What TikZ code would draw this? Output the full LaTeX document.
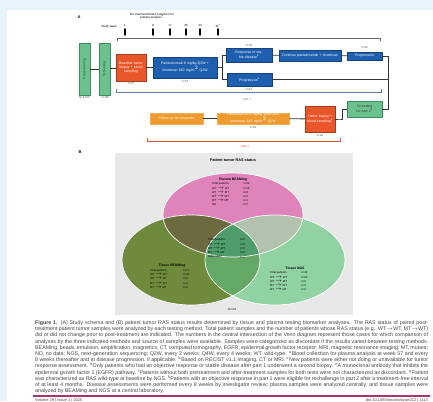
\documentclass[tikz,border=0pt]{standalone}
\usepackage{fontspec}
\setmainfont{Liberation Sans}
\usetikzlibrary{positioning}

\definecolor{pagebg}{HTML}{E6F3FB}
\definecolor{txbox}{HTML}{1F5FAF}
\definecolor{biopsy}{HTML}{E8562A}
\definecolor{partorange}{HTML}{EE9A2E}
\definecolor{screengreen}{HTML}{6CC28E}
\definecolor{screenedge}{HTML}{3C8F5C}
\definecolor{panelgray}{HTML}{E8E8E8}
\definecolor{vpink}{HTML}{DE84BA}
\definecolor{vdark}{HTML}{6E8B3D}
\definecolor{vlight}{HTML}{90D2A2}
\definecolor{vpd}{HTML}{6D6A40}
\definecolor{vpl}{HTML}{B2C2AC}
\definecolor{vdl}{HTML}{64A866}
\definecolor{vcenter}{HTML}{4F9C6C}
\definecolor{captxt}{HTML}{454545}
\definecolor{rulemag}{HTML}{A8336E}
\definecolor{partone}{HTML}{5A7CA8}
\definecolor{parttwo}{HTML}{E0553A}

\tikzset{
  boxbase/.style={draw, inner sep=0.4pt, align=center,
    font=\fontsize{3.5}{4.1}\selectfont},
  bluebox/.style={boxbase, fill=txbox, draw=txbox!70!black, text=white},
  redbox/.style={boxbase, fill=biopsy, draw=biopsy!70!black, text=white},
  orangebox/.style={boxbase, fill=partorange, draw=partorange!80!white, text=white},
  greenbox/.style={boxbase, fill=screengreen, draw=screenedge, text=screenedge!60!black},
  link/.style={draw=black!80, line width=0.8pt},
  count/.style={font=\fontsize{2.8}{3.2}\selectfont, text=black!70, inner sep=0pt},
  bracket/.style={line width=0.5pt},
  weektick/.style={line width=1.4pt, line cap=round},
  weeklabel/.style={font=\fontsize{3}{3.4}\selectfont, inner sep=0pt},
  panellabel/.style={font=\bfseries\fontsize{4}{4.5}\selectfont, inner sep=0pt},
  venntitle/.style={font=\bfseries\fontsize{3.8}{4.2}\selectfont, inner sep=0pt},
  venntext/.style={font=\fontsize{2.8}{3.2}\selectfont, inner sep=0pt, anchor=west},
}

\begin{document}
\begin{tikzpicture}[x=1pt,y=-1pt]
\useasboundingbox (0,0) rectangle (433,401);
\fill[pagebg] (0,0) rectangle (433,401);
\fill[white] (7,10) rectangle (433,401);

% ---------- panel A ----------
\node[panellabel] (labA) at (79,17) {A};
\node[weeklabel, align=center] (collect) at (152,16)
  {On-treatment blood collection for\\plasma analysis$^{\mathrm{a}}$};
\node[weeklabel, anchor=east] (studyweek) at (117,27) {Study week};

\foreach \x/\w [count=\i] in {125/1,153/9,170/17,186/25,200/33,218/41$^{\mathrm{a}}$}{
  \node[weeklabel] (wk\i) at (\x,25.5) {\w};
  \coordinate (tt\i) at (\x,29);
  \coordinate (tb\i) at (\x,35);
  \draw[weektick] (tt\i) -- (tb\i);
}

% part 1 brackets
\coordinate (bt1) at (117,41);
\coordinate (bt2) at (117,38);
\coordinate (bt3) at (380,38);
\coordinate (bt4) at (380,41);
\draw[bracket, draw=black!60] (bt1) -- (bt2) -- (bt3) -- (bt4);
\coordinate (bb1) at (116,89);
\coordinate (bb2) at (116,92);
\coordinate (bb3) at (381,92);
\coordinate (bb4) at (381,89);
\draw[bracket, draw=partone] (bb1) -- (bb2) -- (bb3) -- (bb4);
\node[weeklabel, text=partone] (part1) at (247,99) {Part 1};

% screening columns
\node[greenbox, minimum width=11pt, minimum height=52pt] (pre) at (84.5,69)
  {\rotatebox{90}{Prescreening}};
\node[greenbox, minimum width=11pt, minimum height=52pt] (scr) at (104.5,69)
  {\rotatebox{90}{Screening}};
\node[count] (npre) at (84.5,98) {N=1,156};
\node[count] (nscr) at (105,98) {n=180};

% part 1 flow
\node[redbox, minimum width=30pt, minimum height=27pt, text width=28pt] (bio1) at (131,67.5)
  {Baseline tumor biopsy + blood sampling};
\node[count] (nbio1) at (131,84) {n=57};
\node[bluebox, minimum width=64pt, minimum height=21pt, text width=60pt] (trt1) at (185,67.5)
  {Panitumumab 6 mg/kg Q2W + irinotecan 180 mg/m$^2$ Q2W};
\node[count] (ntrt1) at (185,81.5) {n=54};
\node[bluebox, minimum width=46pt, minimum height=14pt, text width=44pt] (resp) at (249,55)
  {Response or stable disease$^{\mathrm{b}}$};
\node[count] (nresp) at (249,45.5) {n=30};
\node[bluebox, minimum width=62pt, minimum height=11pt, text width=60pt] (cont) at (310,55.5)
  {Continue panitumumab + irinotecan};
\node[bluebox, minimum width=35pt, minimum height=8pt] (prog1) at (364.5,56)
  {Progression};
\node[count] (nprog1) at (364.5,48) {n=30};
\node[bluebox, minimum width=45pt, minimum height=13pt] (prog2) at (249.5,79.5)
  {Progression$^{\mathrm{b}}$};
\node[count] (nprog2) at (249.5,89) {n=24$^{\mathrm{c}}$};

\coordinate (fork) at (222,67.5);
\coordinate (right1) at (388,56);
\coordinate (right2) at (388,79.5);
\draw[link] (pre) -- (scr);
\draw[link] (scr) -- (bio1);
\draw[link] (bio1) -- (trt1);
\draw[link] (trt1) -- (fork);
\draw[link] (fork) |- (resp);
\draw[link] (fork) |- (prog2);
\draw[link] (resp) -- (cont);
\draw[link] (cont) -- (prog1);
\draw[link] (prog1) -- (right1);
\draw[link] (prog2) -- (right2);

% ---------- part 2 ----------
\node[greenbox, minimum width=35pt, minimum height=16pt, text width=33pt, text=black!75] (scr2) at (364.5,109)
  {Screening for part 2$^{\mathrm{d}}$};
\node[redbox, minimum width=30pt, minimum height=26pt, text width=28pt] (bio2) at (320,119)
  {Tumor biopsy + blood sampling$^{\mathrm{d}}$};
\node[count] (nbio2) at (320,135.5) {n=29};
\node[orangebox, minimum width=72pt, minimum height=11pt, text width=70pt] (trt2) at (253,118.5)
  {Panitumumab 6 mg/kg Q2W plus irinotecan 180 mg/m$^2$ Q2W};
\node[count] (ntrt2) at (253,128) {n=29};
\node[orangebox, minimum width=53pt, minimum height=11pt, text width=51pt] (fup) at (176.5,118.5)
  {Follow-up for response};

\coordinate (right3) at (388,109);
\coordinate (step2) at (340,119);
\draw[link] (right1) -- (right3) -- (scr2.east);
\draw[link] (scr2.west) -- ++(-4,0) |- (step2) -- (bio2);
\draw[link] (bio2) -- (trt2);
\draw[link] (trt2) -- (fup);

\coordinate (rb1) at (147,138);
\coordinate (rb2) at (147,141);
\coordinate (rb3) at (340,141);
\coordinate (rb4) at (340,138);
\draw[bracket, draw=parttwo] (rb1) -- (rb2) -- (rb3) -- (rb4);
\node[weeklabel, text=parttwo] (part2) at (245,146) {Part 2};

% ---------- panel B ----------
\node[panellabel] (labB) at (80,152) {B};
\fill[panelgray] (115,153) rectangle (353,315);
\node[venntitle] (vtitle) at (233,160) {Patient tumor RAS status};

\def\EP{(233,215) ellipse [x radius=70, y radius=42]}
\def\ED{(191,260) ellipse [x radius=69, y radius=45]}
\def\EL{(275,260) ellipse [x radius=70, y radius=45]}

\fill[vpink] \EP;
\fill[vdark] \ED;
\fill[vlight] \EL;
\begin{scope}
  \clip \EP;
  \fill[vpd] \ED;
  \fill[vpl] \EL;
\end{scope}
\begin{scope}
  \clip \ED;
  \fill[vdl] \EL;
  \clip \EP;
  \fill[vcenter] \EL;
\end{scope}
\draw[white, line width=0.7pt] \EP \ED \EL;

% plasma set
\node[venntitle, font=\bfseries\fontsize{3.4}{4}\selectfont] (ptitle) at (233,179.5) {Plasma BEAMing};
\foreach \a/\b [count=\i] in {Total patients/n=29, WT $\rightarrow$ WT/n=18, WT $\rightarrow$ MT/n=3, MT $\rightarrow$ WT/n=2, MT $\rightarrow$ MT/n=4, ND/n=2}{
  \node[venntext] (pa\i) at (212,184+4.2*\i-4.2) {\a};
  \node[venntext] (pb\i) at (243,184+4.2*\i-4.2) {\b};
}
% centre set
\foreach \a/\b [count=\i] in {Total patients/n=9, WT $\rightarrow$ WT/n=5, WT $\rightarrow$ MT/n=1, MT $\rightarrow$ MT/n=2, Discordant/n=1$^{\mathrm{f}}$}{
  \node[venntext] (ca\i) at (208,240+4.1*\i-4.1) {\a};
  \node[venntext] (cb\i) at (240,240+4.1*\i-4.1) {\b};
}
% tissue BEAMing set
\node[venntitle, font=\bfseries\fontsize{3.4}{4}\selectfont] (dtitle) at (172,265.5) {Tissue BEAMing};
\foreach \a/\b [count=\i] in {Total patients/n=17, WT $\rightarrow$ WT/n=11, WT $\rightarrow$ MT/n=1, MT $\rightarrow$ WT/n=2, MT $\rightarrow$ MT/n=3}{
  \node[venntext] (da\i) at (150,270.5+4.2*\i-4.2) {\a};
  \node[venntext] (db\i) at (183,270.5+4.2*\i-4.2) {\b};
}
% tissue NGS set
\node[venntitle, font=\bfseries\fontsize{3.4}{4}\selectfont] (ltitle) at (295,268) {Tissue NGS};
\foreach \a/\b [count=\i] in {Total patients/n=19, WT $\rightarrow$ WT/n=10, WT $\rightarrow$ MT/n=2, MT $\rightarrow$ WT/n=3, MT $\rightarrow$ MT/n=4}{
  \node[venntext] (la\i) at (270,273+4.2*\i-4.2) {\a};
  \node[venntext] (lb\i) at (301,273+4.2*\i-4.2) {\b};
}
\node[count, font=\bfseries\fontsize{2.8}{3.2}\selectfont] (ntot) at (232,310) {N=178};

% ---------- caption ----------
\node[anchor=north west, inner sep=0pt, text width=393pt, align=justify, text=captxt,
      font=\fontsize{5.3}{6.2}\selectfont] (caption) at (35,320.5)
{\textbf{Figure 1.} (A) Study schema and (B) patient tumor RAS status results determined by tissue and plasma testing biomarker analyses. The RAS status of paired post-treatment patient tumor samples were analyzed by each testing method. Total patient samples and the number of patients whose RAS status (e.g., WT$\rightarrow$WT, MT$\rightarrow$WT) did or did not change prior to post-treatment are indicated. The numbers in the central intersection of the Venn diagram represent those cases for which comparison of analyses by the three indicated methods and source of samples were available. Samples were categorized as discordant if the results varied between testing methods. BEAMing, beads, emulsion, amplification, magnetics; CT, computed tomography; EGFR, epidermal growth factor receptor; MRI, magnetic resonance imaging; MT, mutant; ND, no data; NGS, next-generation sequencing; Q2W, every 2 weeks; Q4W, every 4 weeks; WT, wild-type. $^{\mathrm{a}}$Blood collection for plasma analysis at week 57 and every 8 weeks thereafter and at disease progression, if applicable. $^{\mathrm{b}}$Based on RECIST v1.1 imaging, CT or MRI. $^{\mathrm{c}}$New patients were either not doing or unavailable for tumor response assessment. $^{\mathrm{d}}$Only patients who had an objective response or stable disease after part 1 underwent a second biopsy. $^{\mathrm{e}}$A monoclonal antibody that inhibits the epidermal growth factor 1 (EGFR) pathway. $^{\mathrm{f}}$Patients without both pretreatment and after-treatment samples for both tests were not characterized as discordant. $^{\mathrm{g}}$Patient was characterized as RAS wild-type at baseline by NGS. $^{\mathrm{h}}$Patients with an objective response in part 1 were eligible for rechallenge in part 2 after a treatment-free interval of at least 4 months. Disease assessments were performed every 8 weeks by investigator review; plasma samples were analyzed centrally, and tissue samples were analyzed by BEAMing and NGS at a central laboratory.\par};

\coordinate (ruleL) at (33,396);
\coordinate (ruleR) at (430,396);
\draw[rulemag, line width=1.3pt] (ruleL) -- (ruleR);
\node[anchor=north west, inner sep=0pt, text=captxt, font=\fontsize{4}{5}\selectfont] (footL) at (35,398.3) {Volume 29 | Issue 1 | 2025};
\node[anchor=north east, inner sep=0pt, text=captxt, font=\fontsize{4}{5}\selectfont] (footR) at (428,398.3) {doi:10.1093/oncolo/oyae212 | 1113};
\end{tikzpicture}
\end{document}
